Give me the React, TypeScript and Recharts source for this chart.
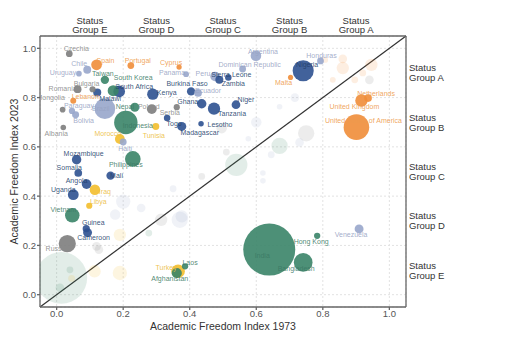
import React from 'react';
import { ScatterChart, Scatter, XAxis, YAxis, ZAxis, CartesianGrid, ReferenceLine } from 'recharts';

// highlighted countries
const countries = [
  'Czechia', 'Spain', 'Portugal', 'Cyprus', 'Chile', 'Uruguay', 'Taiwan', 'Panama', 'Romania', 'Bulgaria',
  'South Korea', 'South Africa', 'Malawi', 'Kenya', 'Burkina Faso', 'Ecuador', 'Mongolia', 'Lebanon', 'Paraguay', 'Bolivia',
  'Brazil', 'Nepal', 'Poland', 'Serbia', 'Indonesia', 'Togo', 'Madagascar', 'Lesotho', 'Ghana', 'Tunisia',
  'Morocco', 'Haiti', 'Albania', 'Argentina', 'Dominican Republic', 'Nigeria', 'Honduras', 'Malta', 'Peru', 'Sierra Leone',
  'Zambia', 'Niger', 'Tanzania', 'Netherlands', 'United Kingdom', 'United States of America', 'Mozambique', 'Philippines', 'Somalia', 'Mali',
  'Angola', 'Iraq', 'Uganda', 'Libya', 'Vietnam', 'Guinea', 'Cameroon', 'Russia', 'Turkey', 'Laos',
  'Afghanistan', 'India', 'Bangladesh', 'Hong Kong', 'Venezuela',
];
const afi1973 = [
  0.038, 0.12, 0.223, 0.368, 0.092, 0.067, 0.145, 0.389, 0.063, 0.108,
  0.17, 0.188, 0.122, 0.289, 0.404, 0.425, 0.018, 0.05, 0.046, 0.057,
  0.145, 0.235, 0.286, 0.361, 0.208, 0.332, 0.376, 0.434, 0.436, 0.298,
  0.19, 0.2, 0.02, 0.599, 0.559, 0.741, 0.793, 0.703, 0.476, 0.516,
  0.489, 0.539, 0.473, 0.936, 0.916, 0.901, 0.06, 0.229, 0.065, 0.162,
  0.09, 0.115, 0.05, 0.098, 0.047, 0.089, 0.093, 0.032, 0.365, 0.386,
  0.361, 0.639, 0.741, 0.783, 0.909,
];
const afi2023 = [
  0.978, 0.933, 0.93, 0.924, 0.913, 0.897, 0.872, 0.895, 0.834, 0.834,
  0.828, 0.825, 0.821, 0.814, 0.825, 0.819, 0.751, 0.787, 0.746, 0.73,
  0.755, 0.761, 0.753, 0.761, 0.699, 0.717, 0.683, 0.694, 0.775, 0.683,
  0.632, 0.62, 0.679, 0.97, 0.916, 0.909, 0.949, 0.882, 0.886, 0.882,
  0.872, 0.771, 0.755, 0.798, 0.788, 0.68, 0.548, 0.551, 0.494, 0.483,
  0.449, 0.426, 0.406, 0.361, 0.322, 0.268, 0.252, 0.207, 0.095, 0.115,
  0.088, 0.183, 0.131, 0.239, 0.267,
];
// population 2023, millions
const population = [
  10.5, 48, 10.4, 1.3, 19.6, 3.4, 23.9, 4.5, 19, 6.5,
  51.7, 60, 20.9, 55, 23, 18, 3.4, 5.4, 6.9, 12.4,
  216, 30.9, 37, 6.7, 278, 9, 30, 2.3, 34, 12.5,
  37.8, 11.7, 2.8, 46, 11.3, 224, 10.6, 0.5, 34, 8.8,
  20.6, 27, 67, 17.9, 68, 335, 33.9, 117, 18, 23,
  36.7, 45.5, 48.6, 6.9, 98.9, 14, 28.6, 144, 85, 7.6,
  42, 1429, 173, 7.5, 28.8,
];
const region = [
  'ee', 'we', 'we', 'we', 'la', 'la', 'ap', 'la', 'ee', 'ee',
  'ap', 'af', 'af', 'af', 'af', 'la', 'ee', 'we', 'la', 'la',
  'la', 'ap', 'ee', 'ee', 'ap', 'af', 'af', 'af', 'af', 'me',
  'me', 'la', 'ee', 'la', 'la', 'af', 'la', 'we', 'la', 'af',
  'af', 'af', 'af', 'we', 'we', 'we', 'af', 'ap', 'af', 'af',
  'af', 'me', 'af', 'me', 'ap', 'af', 'af', 'ee', 'me', 'ap',
  'ap', 'ap', 'ap', 'ap', 'la',
];

// other countries, shown faded
const otherAfi1973 = [
  0.86, 0.946, 0.92, 0.896, 0.94, 0.83, 0.86, 0.807, 0.716, 0.67,
  0.6, 0.496, 0.75, 0.67, 0.73, 0.645, 0.576, 0.51, 0.54, 0.436,
  0.62, 0.62, 0.376, 0.37, 0.314, 0.254, 0.2, 0.176, 0.277, 0.19,
  0.12, 0.127, 0.014, 0.04, 0.045, 0.114, 0.19, 0.01, 0.35,
];
const otherAfi2023 = [
  0.92, 0.933, 0.9, 0.872, 0.872, 0.872, 0.957, 0.953, 0.8, 0.763,
  0.7, 0.676, 0.655, 0.604, 0.618, 0.568, 0.633, 0.579, 0.527, 0.48,
  0.494, 0.462, 0.318, 0.304, 0.304, 0.352, 0.378, 0.325, 0.25, 0.243,
  0.196, 0.183, 0.068, 0.101, 0.066, 0.095, 0.088, 0.028, 0.43,
];
const otherPop = [
  68, 68, 11, 11, 26, 5, 26, 5, 26, 3,
  45, 45, 128, 128, 26, 11, 3, 11, 249, 11,
  3, 3, 68, 128, 68, 26, 96, 45, 11, 68,
  26, 26, 1410, 11, 11, 68, 96, 26, 11,
];
const otherRegion = [
  'we', 'we', 'we', 'we', 'ee', 'we', 'we', 'we', 'la', 'la',
  'la', 'ee', 'ee', 'ap', 'la', 'la', 'la', 'ee', 'ap', 'ee',
  'la', 'la', 'la', 'la', 'ee', 'la', 'la', 'la', 'ap', 'me',
  'ee', 'ee', 'ap', 'ap', 'me', 'me', 'me', 'ap', 'la',
];

const axisTicks = [0, 0.2, 0.4, 0.6, 0.8, 1];
const groupTicks = [0.1, 0.3, 0.5, 0.7, 0.9];
const groupLetters = ['E', 'D', 'C', 'B', 'A'];

const dotColor: Record<string, string> = {
  we: '#ef8d38',
  ee: '#7d7d7d',
  la: '#98a6cb',
  af: '#2e5190',
  ap: '#3a8468',
  me: '#f3be2c',
};
const textColor: Record<string, string> = {
  we: '#ee9a4c',
  ee: '#8a8a8a',
  la: '#98a4c4',
  af: '#243f6c',
  ap: '#3c7a65',
  me: '#ecbd3e',
};

// label nudges in px (text centre relative to bubble centre)
const labelNudge: Record<string, [number, number]> = {
  Czechia: [7, -5], Spain: [9, -4], Portugal: [7, -5], Cyprus: [-8, -5], Chile: [-8, -6],
  Uruguay: [-16, -1], Taiwan: [-2, -6], Panama: [-14, -2], Romania: [-15, -1], Bulgaria: [-6, -6],
  'South Korea': [20, -13], 'South Africa': [15, -5], Malawi: [13, 6], Kenya: [14, -2], 'Burkina Faso': [-4, -8],
  Ecuador: [10, -2], Mongolia: [-12, -12], Lebanon: [12, -4], Paraguay: [7, -5], Bolivia: [8, 6],
  Brazil: [-4, 0], Nepal: [-10, -1], Poland: [-3, -3], Serbia: [-7, 5], Indonesia: [12, 3],
  Togo: [7, 5], Madagascar: [18, 6], Lesotho: [19, 1], Ghana: [-14, -2], Tunisia: [-2, 9],
  Morocco: [-12, -5], Haiti: [2, 7], Albania: [-7, 6], Argentina: [7, -4], 'Dominican Republic': [7, -5],
  Nigeria: [4, -6], Honduras: [1, -5], Malta: [-7, 5], Peru: [-12, -3], 'Sierra Leone': [3, -3],
  Zambia: [14, 4], Niger: [10, -5], Tanzania: [18, 5], Netherlands: [8, -5], 'United Kingdom': [-7, 6],
  'United States of America': [7, -7], Mozambique: [7, -6], Philippines: [-7, 6], Somalia: [-9, -5], Mali: [6, 0],
  Angola: [-10, -4], Iraq: [10, 2], Uganda: [-10, -5], Libya: [9, -4], Vietnam: [-9, -6],
  Guinea: [7, -6], Cameroon: [6, 5], Russia: [-11, 5], Turkey: [-12, -4], Laos: [5, -4],
  Afghanistan: [-7, 5], India: [-7, 6], Bangladesh: [-7, 6], 'Hong Kong': [-6, 6], Venezuela: [-8, 6],
};

const highlighted = countries
  .map((name, i) => ({ name, x: afi1973[i], y: afi2023[i], pop: population[i], region: region[i] }))
  .sort((a, b) => b.pop - a.pop);
const others = otherAfi1973
  .map((x, i) => ({ x, y: otherAfi2023[i], pop: otherPop[i], region: otherRegion[i] }))
  .sort((a, b) => b.pop - a.pop);

const FONT = '"Liberation Sans", Arial, sans-serif';

const radius = (p: any) => (p.width ? p.width / 2 : Math.sqrt(Math.max(p.size || 0, 0) / Math.PI));

const Bubble = (p: any) => (
  <circle cx={p.cx} cy={p.cy} r={radius(p)} fill={dotColor[p.payload.region]} fillOpacity={0.9} />
);
const Ghost = (p: any) => (
  <circle cx={p.cx} cy={p.cy} r={radius(p)} fill={dotColor[p.payload.region]} fillOpacity={0.15} />
);
const Tag = (p: any) => {
  const [dx, dy] = labelNudge[p.payload.name] ?? [0, -8];
  return (
    <text
      x={p.cx + dx}
      y={p.cy + dy}
      textAnchor="middle"
      dominantBaseline="central"
      fontSize={7}
      fontFamily={FONT}
      fill={textColor[p.payload.region]}
      fillOpacity={0.9}
    >
      {p.payload.name}
    </text>
  );
};

const TopTick = (p: any) => {
  const letter = groupLetters[groupTicks.indexOf(p.payload.value)];
  return (
    <text x={p.x} y={p.y} textAnchor="middle" fontSize={9.5} fontFamily={FONT} fill="#333">
      <tspan x={p.x} dy={-12.5}>Status</tspan>
      <tspan x={p.x} dy={9.8}>Group {letter}</tspan>
    </text>
  );
};

const RightTick = (p: any) => {
  const letter = groupLetters[groupTicks.indexOf(p.payload.value)];
  return (
    <text x={p.x} y={p.y} textAnchor="start" fontSize={9.5} fontFamily={FONT} fill="#333">
      <tspan x={p.x} dy={-1.5}>Status</tspan>
      <tspan x={p.x} dy={10}>Group {letter}</tspan>
    </text>
  );
};

export default function App() {
  const dom: [number, number] = [-0.05, 1.05];
  return (
    <div style={{ position: 'absolute', left: 0, top: 0, background: '#fff' }}>
      <ScatterChart width={508} height={350} margin={{ top: 0, right: 2, bottom: 0, left: 0 }}>
        <CartesianGrid xAxisId="b" yAxisId="l" stroke="#e2e2e2" strokeDasharray="2 2" />
        <XAxis
          xAxisId="b"
          type="number"
          dataKey="x"
          domain={dom}
          allowDataOverflow
          ticks={axisTicks}
          tickFormatter={(v: number) => v.toFixed(1)}
          height={43}
          tickSize={3}
          tickMargin={0}
          stroke="#666"
          strokeWidth={1.3}
          tick={{ fontSize: 9.5, fill: '#555', fontFamily: FONT }}
          label={{ value: 'Academic Freedom Index 1973', position: 'insideBottom', offset: 20, fontSize: 10.5, fill: '#333', fontFamily: FONT }}
        />
        <XAxis
          xAxisId="t"
          orientation="top"
          type="number"
          dataKey="x"
          domain={dom}
          allowDataOverflow
          ticks={groupTicks}
          height={36}
          tickLine={false}
          tickSize={0}
          tickMargin={0}
          stroke="#666"
          strokeWidth={1.3}
          tick={<TopTick />}
        />
        <YAxis
          yAxisId="l"
          type="number"
          dataKey="y"
          domain={dom}
          allowDataOverflow
          ticks={axisTicks}
          tickFormatter={(v: number) => v.toFixed(1)}
          width={40}
          tickSize={3}
          tickMargin={1}
          stroke="#666"
          strokeWidth={1.3}
          tick={{ fontSize: 9.5, fill: '#555', fontFamily: FONT }}
          label={{ value: 'Academic Freedom Index 2023', angle: -90, position: 'insideLeft', offset: 14, fontSize: 10.5, fill: '#333', fontFamily: FONT, style: { textAnchor: 'middle' } }}
        />
        <YAxis
          yAxisId="r"
          orientation="right"
          type="number"
          dataKey="y"
          domain={dom}
          allowDataOverflow
          ticks={groupTicks}
          width={100}
          tickLine={false}
          tickSize={0}
          tickMargin={3}
          stroke="#666"
          strokeWidth={1.3}
          tick={<RightTick />}
        />
        <ZAxis zAxisId="z" type="number" dataKey="pop" domain={[0, 1500]} range={[20, 2230]} />
        <Scatter xAxisId="b" yAxisId="l" zAxisId="z" data={others} shape={<Ghost />} isAnimationActive={false} />
        <ReferenceLine
          xAxisId="b"
          yAxisId="l"
          segment={[{ x: -0.05, y: -0.05 }, { x: 1.05, y: 1.05 }]}
          stroke="#333"
          strokeWidth={1.2}
          ifOverflow="visible"
        />
        <Scatter xAxisId="b" yAxisId="l" zAxisId="z" data={highlighted} shape={<Bubble />} isAnimationActive={false} />
        <Scatter xAxisId="b" yAxisId="l" zAxisId="z" data={highlighted} shape={<Tag />} isAnimationActive={false} />
      </ScatterChart>
    </div>
  );
}
